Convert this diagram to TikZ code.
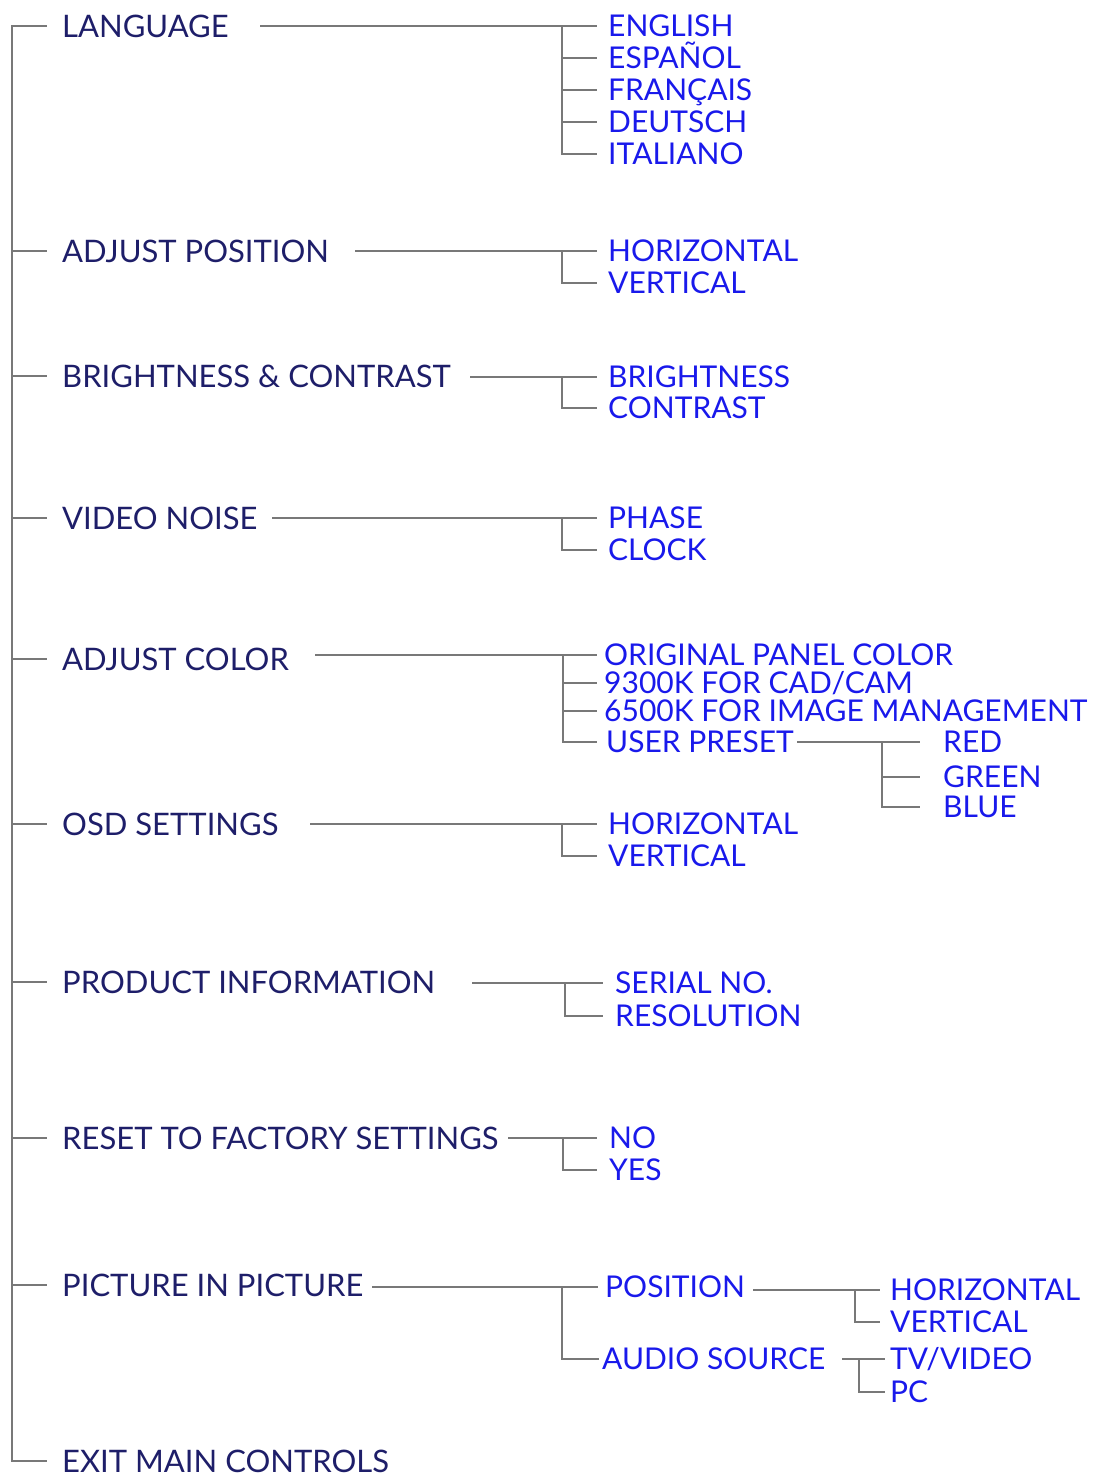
\documentclass[tikz,border=0pt]{standalone}
\usepackage{fontspec}
\setmainfont{Lato}
\definecolor{navy}{RGB}{30,30,105}
\definecolor{subblue}{RGB}{25,25,235}
\definecolor{linegray}{RGB}{120,120,120}
\begin{document}
\begin{tikzpicture}[x=1pt,y=-1pt,
  base/.style={inner sep=0pt, anchor=west, text height=21.5pt, text depth=0pt, font=\fontsize{30}{30}\selectfont},
  mainitem/.style={base, text=navy, text height=22.2pt, font=\fontsize{31}{31}\selectfont},
  subitem/.style={base, text=subblue},
  conn/.style={draw=linegray, line width=2.4pt}]
\useasboundingbox (0,0) rectangle (1093,1476);

% main items
\node[mainitem] (m1) at (62,26) {LANGUAGE};
\node[mainitem] (m2) at (62,251) {ADJUST POSITION};
\node[mainitem] (m3) at (62,376) {BRIGHTNESS \& CONTRAST};
\node[mainitem] (m4) at (62,518) {VIDEO NOISE};
\node[mainitem] (m5) at (62,659) {ADJUST COLOR};
\node[mainitem] (m6) at (62,824) {OSD SETTINGS};
\node[mainitem] (m7) at (62,982) {PRODUCT INFORMATION};
\node[mainitem] (m8) at (62,1138) {RESET TO FACTORY SETTINGS};
\node[mainitem] (m9) at (62,1285) {PICTURE IN PICTURE};
\node[mainitem] (m10) at (62,1461) {EXIT MAIN CONTROLS};

% spine
\coordinate (spine) at (12,0);
\draw[conn] ([xshift=-15pt]m1.west) -- (spine |- m1.west) -- (spine |- m10.west) -- ([xshift=-15pt]m10.west);
\foreach \i in {2,...,9} \draw[conn] (spine |- m\i.west) -- ([xshift=-15pt]m\i.west);

% G1 language
\node[subitem] (s11) at (608,26) {ENGLISH};
\node[subitem] (s12) at (608,58) {ESPAÑOL};
\node[subitem] (s13) at (608,90) {FRANÇAIS};
\node[subitem] (s14) at (608,122) {DEUTSCH};
\node[subitem] (s15) at (608,154) {ITALIANO};
\coordinate (c1) at (260,26);
\coordinate (k1) at (562,26);
\draw[conn] (c1) -- ([xshift=-11pt]s11.west);
\draw[conn] (k1) |- ([xshift=-11pt]s15.west);
\foreach \i in {2,3,4} \draw[conn] (k1 |- s1\i.west) -- ([xshift=-11pt]s1\i.west);

% G2 adjust position
\node[subitem] (s21) at (608,251) {HORIZONTAL};
\node[subitem] (s22) at (608,283) {VERTICAL};
\coordinate (c2) at (355,251);
\coordinate (k2) at (562,251);
\draw[conn] (c2) -- ([xshift=-11pt]s21.west);
\draw[conn] (k2) |- ([xshift=-11pt]s22.west);

% G3 brightness
\node[subitem] (s31) at (608,377) {BRIGHTNESS};
\node[subitem] (s32) at (608,408) {CONTRAST};
\coordinate (c3) at (470,377);
\coordinate (k3) at (562,377);
\draw[conn] (c3) -- ([xshift=-11pt]s31.west);
\draw[conn] (k3) |- ([xshift=-11pt]s32.west);

% G4 video noise
\node[subitem] (s41) at (608,518) {PHASE};
\node[subitem] (s42) at (608,550) {CLOCK};
\coordinate (c4) at (272,518);
\coordinate (k4) at (562,518);
\draw[conn] (c4) -- ([xshift=-11pt]s41.west);
\draw[conn] (k4) |- ([xshift=-11pt]s42.west);

% G5 adjust color
\node[subitem] (s51) at (604,655) {ORIGINAL PANEL COLOR};
\node[subitem] (s52) at (604,683) {9300K FOR CAD/CAM};
\node[subitem] (s53) at (604,711) {6500K FOR IMAGE MANAGEMENT};
\node[subitem] (s54) at (606,742) {USER PRESET};
\coordinate (c5) at (315,655);
\coordinate (k5) at (563,655);
\draw[conn] (c5) -- ([xshift=-7pt]s51.west);
\draw[conn] (k5) |- ([xshift=-9pt]s54.west);
\foreach \i in {2,3} \draw[conn] (k5 |- s5\i.west) -- ([xshift=-7pt]s5\i.west);

% user preset
\node[subitem] (u1) at (943,742) {RED};
\node[subitem] (u2) at (943,777) {GREEN};
\node[subitem] (u3) at (943,807) {BLUE};
\coordinate (cu) at (797,742);
\coordinate (ku) at (882,742);
\draw[conn] (cu) -- ([xshift=-23pt]u1.west);
\draw[conn] (ku) |- ([xshift=-23pt]u3.west);
\draw[conn] (ku |- u2.west) -- ([xshift=-23pt]u2.west);

% G6 OSD
\node[subitem] (s61) at (608,824) {HORIZONTAL};
\node[subitem] (s62) at (608,856) {VERTICAL};
\coordinate (c6) at (310,824);
\coordinate (k6) at (562,824);
\draw[conn] (c6) -- ([xshift=-11pt]s61.west);
\draw[conn] (k6) |- ([xshift=-11pt]s62.west);

% G7 product information
\node[subitem] (s71) at (615,983) {SERIAL NO.};
\node[subitem] (s72) at (615,1016) {RESOLUTION};
\coordinate (c7) at (472,983);
\coordinate (k7) at (565,983);
\draw[conn] (c7) -- ([xshift=-12pt]s71.west);
\draw[conn] (k7) |- ([xshift=-12pt]s72.west);

% G8 reset
\node[subitem] (s81) at (609,1138) {NO};
\node[subitem] (s82) at (609,1170) {YES};
\coordinate (c8) at (508,1138);
\coordinate (k8) at (563,1138);
\draw[conn] (c8) -- ([xshift=-12pt]s81.west);
\draw[conn] (k8) |- ([xshift=-12pt]s82.west);

% G9 picture in picture
\node[subitem] (s91) at (605,1287) {POSITION};
\node[subitem] (s92) at (602,1359) {AUDIO SOURCE};
\coordinate (c9) at (372,1287);
\coordinate (k9) at (562,1287);
\draw[conn] (c9) -- ([xshift=-7pt]s91.west);
\draw[conn] (k9) |- ([xshift=-3pt]s92.west);

\node[subitem] (p1) at (890,1290) {HORIZONTAL};
\node[subitem] (p2) at (890,1322) {VERTICAL};
\coordinate (cp) at (753,1290);
\coordinate (kp) at (855,1290);
\draw[conn] (cp) -- ([xshift=-10pt]p1.west);
\draw[conn] (kp) |- ([xshift=-10pt]p2.west);

\node[subitem] (a1) at (890,1359) {TV/VIDEO};
\node[subitem] (a2) at (890,1392) {PC};
\coordinate (ca) at (842,1359);
\coordinate (ka) at (859,1359);
\draw[conn] (ca) -- ([xshift=-5pt]a1.west);
\draw[conn] (ka) |- ([xshift=-5pt]a2.west);
\end{tikzpicture}
\end{document}
